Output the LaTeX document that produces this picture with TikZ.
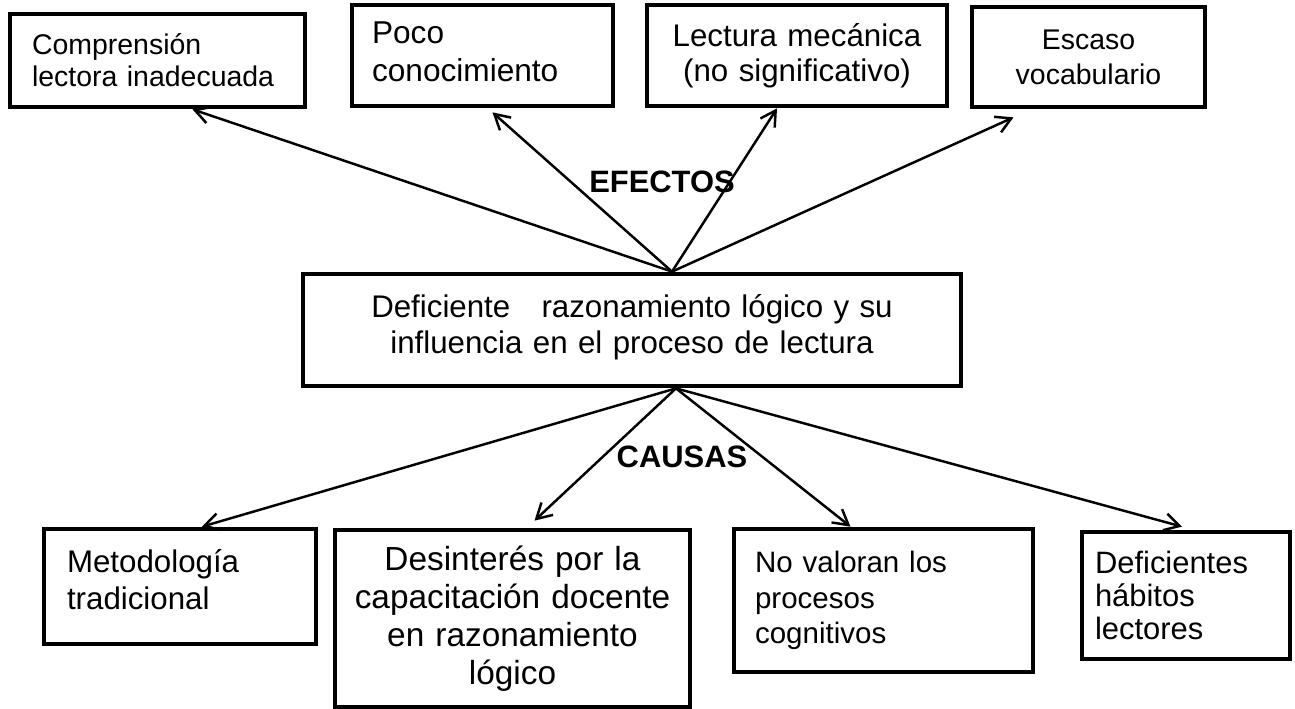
\documentclass[tikz,border=0pt]{standalone}
\usepackage{fontspec}
\setmainfont{Liberation Sans}
\usepackage{tikz}
\usetikzlibrary{arrows.meta}
\newcommand{\letra}[2]{\fontsize{#1pt}{#2pt}\selectfont}
\tikzstyle{caja}=[draw=black, line width=2.7pt, inner ysep=0pt]
\tikzstyle{izq}=[align=left]
\tikzstyle{cen}=[align=center, inner xsep=0.15cm]
\tikzstyle{flecha}=[draw=black, line width=1.4pt, -{Straight Barb[length=3mm, width=3.4mm]}]
\tikzstyle{titulo}=[font=\letra{17.6}{21}\bfseries]

\begin{document}
\begin{tikzpicture}[x=0.02cm, y=-0.02cm]
		   \useasboundingbox (0,0) rectangle (1295,709);
		   \begin{scope}
			   % efectos
			   \node (e1) at (157.5, 60.5)[caja, izq, font=\letra{16.2}{18.3}, inner xsep=0.44cm, text width=5.02cm, minimum height=1.86cm] {Comprensión\\lectora inadecuada};
			   \node (e2) at (482.5, 55.5)[caja, izq, font=\letra{18}{21.4}, inner xsep=0.4cm, text width=4.42cm, minimum height=2.02cm] {Poco\\conocimiento\\[-16.8pt]\mbox{}};
			   \node (e3) at (797, 55.5)[caja, cen, font=\letra{17.8}{19.9}, text width=5.7cm, minimum height=2.02cm] {Lectura mecánica\\(no significativo)};
			   \node (e4) at (1088.5, 57)[caja, cen, font=\letra{16.2}{19.9}, text width=4.36cm, minimum height=2.0cm] {Escaso\\vocabulario};
			   % problema
			   \node (m) at (632, 330)[caja, cen, font=\letra{17.8}{21}, text width=12.86cm, minimum height=2.24cm] {Deficiente\ \ \ razonamiento lógico y su\\influencia en el proceso de lectura\\[-14.2pt]\mbox{}};
			   % causas
			   \node (c1) at (180, 586.5)[caja, izq, font=\letra{17.8}{21}, inner xsep=0.46cm, text width=4.52cm, minimum height=2.3cm] {Metodología\\tradicional\\[-13pt]\mbox{}};
			   \node (c2) at (512.5, 618.5)[caja, cen, font=\letra{19}{21.6}, text width=6.8cm, minimum height=3.54cm] {Desinterés por la\\capacitación docente\\en razonamiento\\lógico};
			   \node (c3) at (883.5, 600.5)[caja, izq, font=\letra{16.8}{20.3}, inner xsep=0.42cm, text width=5.14cm, minimum height=2.86cm] {No valoran los\\procesos\\cognitivos};
			   \node (c4) at (1186, 595.5)[caja, izq, font=\letra{17.6}{18.8}, inner xsep=0.26cm, text width=3.64cm, minimum height=2.54cm] {Deficientes\\hábitos\\lectores};
			   \node (ef) at (662, 182)[titulo] {EFECTOS};
			   \node (ca) at (682, 457)[titulo] {CAUSAS};
		   \end{scope}
		   \begin{scope}
			   \draw[flecha] ([xshift=0.8cm]m.north) -- ([xshift=0.7cm]e1.south);
			   \draw[flecha] ([xshift=0.8cm]m.north) -- ([xshift=0.2cm, yshift=-0.08cm]e2.south);
			   \draw[flecha] ([xshift=0.8cm]m.north) -- ([xshift=-0.4cm]e3.south);
			   \draw[flecha] ([xshift=0.8cm]m.north) -- ([xshift=-1.5cm, yshift=-0.16cm]e4.south);

			   \draw[flecha] ([xshift=0.88cm]m.south) -- ([xshift=0.44cm]c1.north);
			   \draw[flecha] ([xshift=0.88cm]m.south) -- ([xshift=0.44cm, yshift=0.14cm]c2.north);
			   \draw[flecha] ([xshift=0.88cm]m.south) -- ([xshift=-0.66cm]c3.north);
			   \draw[flecha] ([xshift=0.88cm]m.south) -- ([xshift=-0.08cm, yshift=0.06cm]c4.north);
		   \end{scope}
	   \end{tikzpicture}
\end{document}
